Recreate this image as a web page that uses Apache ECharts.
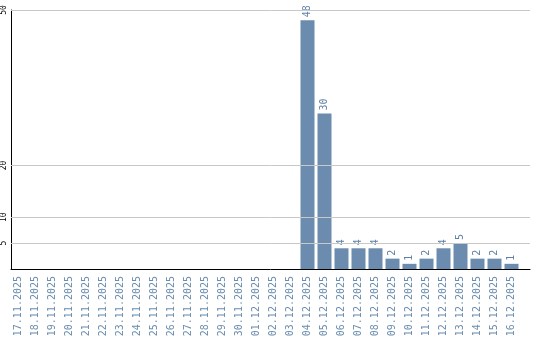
<!DOCTYPE html>
<html><head><meta charset="utf-8">
<script src="https://cdn.jsdelivr.net/npm/echarts@6/dist/echarts.min.js"></script>
<style>html,body{margin:0;padding:0;background:#fff}#c{width:540px;height:340px}</style>
</head><body><div id="c"></div>
<script>
const categories = ["17.11.2025","18.11.2025","19.11.2025","20.11.2025","21.11.2025","22.11.2025","23.11.2025","24.11.2025","25.11.2025","26.11.2025","27.11.2025","28.11.2025","29.11.2025","30.11.2025","01.12.2025","02.12.2025","03.12.2025","04.12.2025","05.12.2025","06.12.2025","07.12.2025","08.12.2025","09.12.2025","10.12.2025","11.12.2025","12.12.2025","13.12.2025","14.12.2025","15.12.2025","16.12.2025"];
const values = [0,0,0,0,0,0,0,0,0,0,0,0,0,0,0,0,0,48,30,4,4,4,2,1,2,4,5,2,2,1];
const yTicks = [5,10,20,50];

const chart = echarts.init(document.getElementById('c'));
const mono = 'DejaVu Sans Mono';
chart.setOption({
  animation:false,
  grid:[
    {left:10,right:10,top:10,bottom:71},
    {left:10,width:510,top:10,bottom:71}
  ],
  xAxis:[
    {gridIndex:0,type:'value',min:0,max:1,axisLine:{show:true,lineStyle:{color:'#000',width:1}},axisTick:{show:false},axisLabel:{show:false},splitLine:{show:false}},
    {gridIndex:1,type:'category',data:categories,boundaryGap:true,axisLine:{show:false},axisTick:{show:false},splitLine:{show:false},
     axisLabel:{rotate:90,interval:0,margin:7,color:'#6a8cad',fontFamily:mono,fontSize:10}}
  ],
  yAxis:[
    {gridIndex:0,type:'value',min:0,max:50,interval:5,axisLine:{show:true,lineStyle:{color:'#000',width:1}},axisTick:{show:false},splitLine:{show:false},
     axisLabel:{rotate:90,margin:3,color:'#000',fontFamily:mono,fontSize:8,
       formatter:v=>yTicks.includes(v)?String(v):''}},
    {gridIndex:1,type:'value',min:0,max:50,show:false}
  ],
  series:[
    {type:'line',xAxisIndex:0,yAxisIndex:0,data:[[0,0]],showSymbol:false,lineStyle:{opacity:0},z:1,silent:true,
     markLine:{silent:true,symbol:'none',label:{show:false},lineStyle:{color:'#c8c8c8',type:'solid',width:1},
       data:yTicks.map(v=>({yAxis:v}))}},
    {type:'bar',xAxisIndex:1,yAxisIndex:1,data:values,barWidth:14,z:2,
     itemStyle:{color:'#6b8cae'},
     label:{show:true,position:'top',rotate:90,align:'left',verticalAlign:'middle',distance:3,color:'#5f80a6',fontFamily:mono,fontSize:10,
       formatter:p=>p.value>0?String(p.value):''}}
  ]
});
</script></body></html>
